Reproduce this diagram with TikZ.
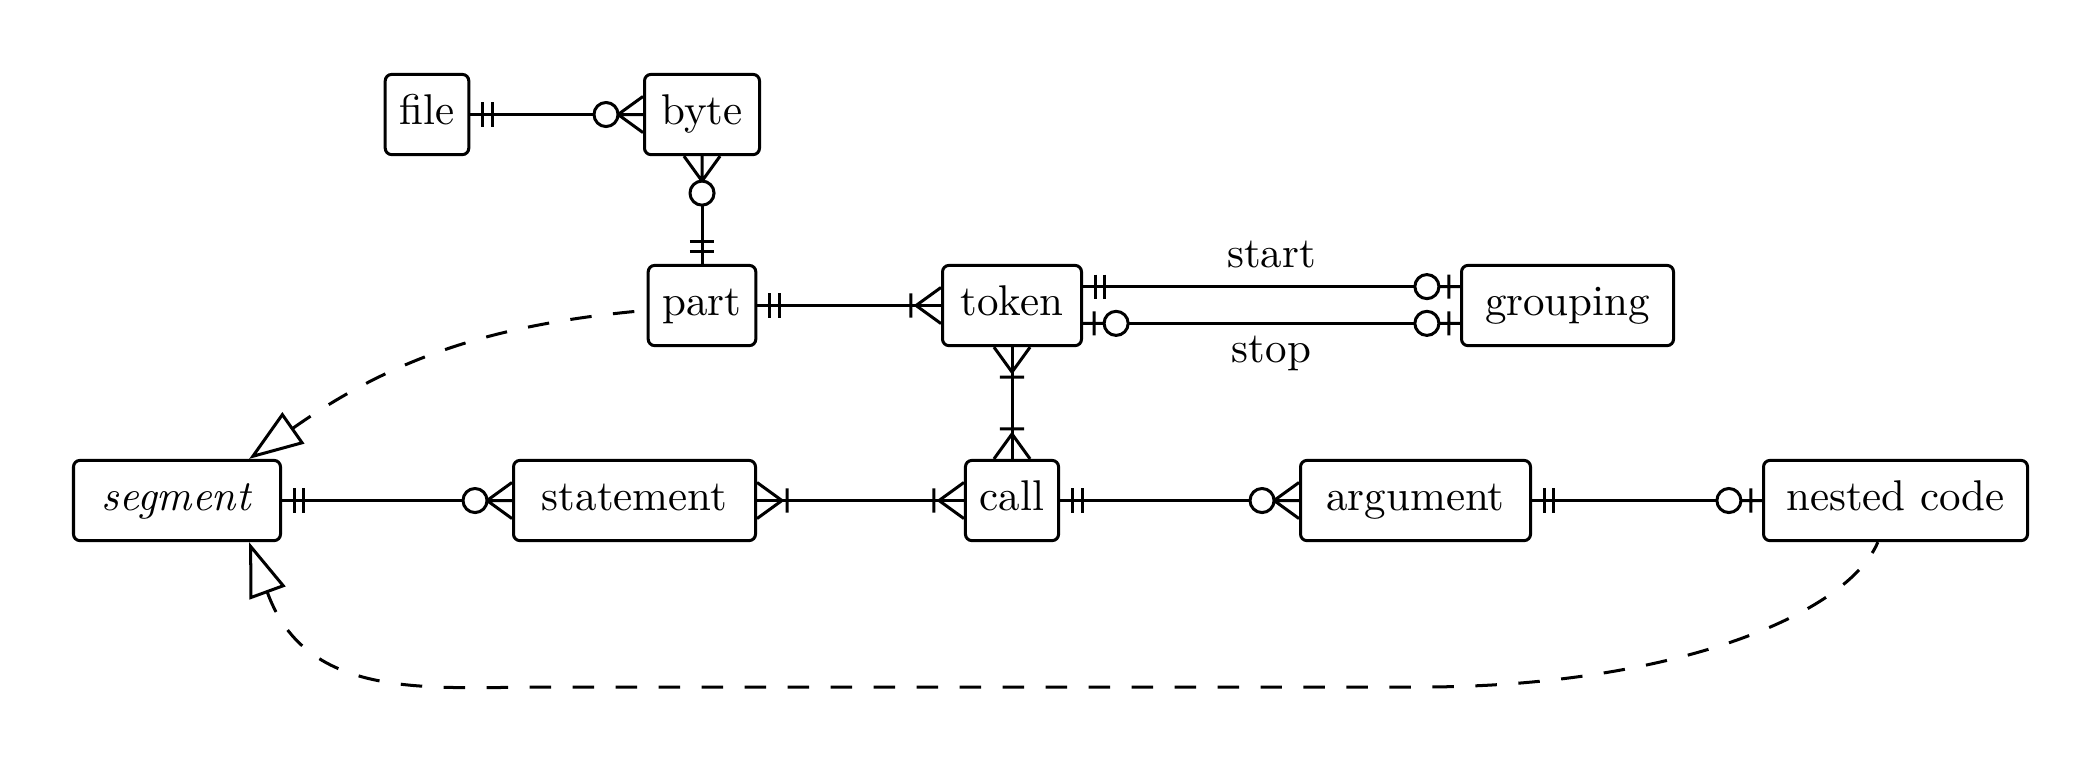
\documentclass[tikz,border=0pt]{standalone}
\usetikzlibrary{arrows.meta}
\newcommand\pxl{0.2326pt}
% ER end symbols
\pgfdeclarearrow{
  name = ERone,
  setup code = {
    \pgfarrowssettipend{0pt}
    \pgfarrowssetlineend{0pt}
    \pgfarrowssetbackend{-5.5pt}
    \pgfarrowshullpoint{0pt}{2.8pt}
    \pgfarrowshullpoint{0pt}{-2.8pt}
    \pgfarrowshullpoint{-5.5pt}{2.8pt}
    \pgfarrowshullpoint{-5.5pt}{-2.8pt}
  },
  drawing code = {
    \pgfsetdash{}{0pt}\pgfsetbuttcap
    \pgfpathmoveto{\pgfpoint{-2.9pt}{-2.8pt}}\pgfpathlineto{\pgfpoint{-2.9pt}{2.8pt}}
    \pgfpathmoveto{\pgfpoint{-5.1pt}{-2.8pt}}\pgfpathlineto{\pgfpoint{-5.1pt}{2.8pt}}
    \pgfusepathqstroke
  }
}
\pgfdeclarearrow{
  name = ERzeromany,
  setup code = {
    \pgfarrowssettipend{0pt}
    \pgfarrowssetlineend{-11.4pt}
    \pgfarrowssetbackend{-11.4pt}
    \pgfarrowshullpoint{0pt}{4.2pt}
    \pgfarrowshullpoint{0pt}{-4.2pt}
    \pgfarrowshullpoint{-11.4pt}{2.8pt}
    \pgfarrowshullpoint{-11.4pt}{-2.8pt}
  },
  drawing code = {
    \pgfsetdash{}{0pt}\pgfsetroundjoin\pgfsetbuttcap
    \pgfpathmoveto{\pgfpoint{0pt}{4.2pt}}
    \pgfpathlineto{\pgfpoint{-5.8pt}{0pt}}
    \pgfpathlineto{\pgfpoint{0pt}{-4.2pt}}
    \pgfpathmoveto{\pgfpoint{-5.8pt}{0pt}}\pgfpathlineto{\pgfpoint{0pt}{0pt}}
    \pgfpathcircle{\pgfpoint{-8.6pt}{0pt}}{2.8pt}
    \pgfusepathqstroke
  }
}
\pgfdeclarearrow{
  name = ERonemany,
  setup code = {
    \pgfarrowssettipend{0pt}
    \pgfarrowssetlineend{0pt}
    \pgfarrowssetbackend{-7.2pt}
    \pgfarrowshullpoint{0pt}{4.2pt}
    \pgfarrowshullpoint{0pt}{-4.2pt}
    \pgfarrowshullpoint{-7.2pt}{2.8pt}
    \pgfarrowshullpoint{-7.2pt}{-2.8pt}
  },
  drawing code = {
    \pgfsetdash{}{0pt}\pgfsetroundjoin\pgfsetbuttcap
    \pgfpathmoveto{\pgfpoint{0pt}{4.2pt}}
    \pgfpathlineto{\pgfpoint{-5.8pt}{0pt}}
    \pgfpathlineto{\pgfpoint{0pt}{-4.2pt}}
    \pgfpathmoveto{\pgfpoint{-7pt}{2.8pt}}\pgfpathlineto{\pgfpoint{-7pt}{-2.8pt}}
    \pgfusepathqstroke
  }
}
\pgfdeclarearrow{
  name = ERzeroone,
  setup code = {
    \pgfarrowssettipend{0pt}
    \pgfarrowssetlineend{-10.5pt}
    \pgfarrowssetbackend{-10.5pt}
    \pgfarrowshullpoint{0pt}{2.8pt}
    \pgfarrowshullpoint{0pt}{-2.8pt}
    \pgfarrowshullpoint{-10.5pt}{2.8pt}
    \pgfarrowshullpoint{-10.5pt}{-2.8pt}
  },
  drawing code = {
    \pgfsetdash{}{0pt}\pgfsetbuttcap
    \pgfpathmoveto{\pgfpoint{-4.9pt}{0pt}}\pgfpathlineto{\pgfpoint{0pt}{0pt}}
    \pgfpathmoveto{\pgfpoint{-2.6pt}{2.8pt}}\pgfpathlineto{\pgfpoint{-2.6pt}{-2.8pt}}
    \pgfpathcircle{\pgfpoint{-7.7pt}{0pt}}{2.8pt}
    \pgfusepathqstroke
  }
}
\tikzset{
  entity/.style={draw, line width=0.7pt, rounded corners=1.5pt,
    text height=8.4pt, text depth=3.6pt, inner sep=3.33pt},
  rel/.style={line width=0.7pt},
  inherit/.style={line width=0.7pt, dash pattern=on 5pt off 5pt},
  lbl/.style={midway, anchor=base, inner sep=0pt},
}
\begin{document}
\begin{tikzpicture}[x=0.2326pt, y=0.2326pt]
\path[use as bounding box] (0,0) rectangle (2099,-764);
% entities
\node[entity, minimum width=83*\pxl]  (file)      at (427,-114.5)  {file};
\node[entity, minimum width=115*\pxl] (byte)      at (702,-114.5)  {byte};
\node[entity, minimum width=106*\pxl] (part)      at (702,-305.5)  {part};
\node[entity, minimum width=139*\pxl] (token)     at (1012,-305.5) {token};
\node[entity, minimum width=212*\pxl] (grouping)  at (1567.5,-305.5) {grouping};
\node[entity, minimum width=207*\pxl] (segment)   at (177,-500.5)  {\textit{segment}};
\node[entity, minimum width=242*\pxl] (statement) at (634.5,-500.5) {statement};
\node[entity, minimum width=91*\pxl]  (call)      at (1012,-500.5) {call};
\node[entity, minimum width=230*\pxl] (argument)  at (1415.5,-500.5) {argument};
\node[entity, minimum width=264*\pxl] (nested)    at (1895.5,-500.5) {nested code};
\coordinate (b1) at (1420,-687);
\coordinate (b2) at (550,-687);
% relationships
\draw[rel, arrows={{ERone}-{ERzeromany}}] (file) -- (byte);
\draw[rel, arrows={{ERzeromany}-{ERone}}] (byte) -- (part);
\draw[rel, arrows={{ERone}-{ERonemany}}] (part) -- (token);
\draw[rel, arrows={{ERone}-{ERzeroone}}] ([yshift=4.4pt]token.east) -- ([yshift=4.4pt]grouping.west)
  node[lbl, yshift=4.5pt] {start};
\draw[rel, arrows={{ERzeroone}-{ERzeroone}}] ([yshift=-4.15pt]token.east) -- ([yshift=-4.15pt]grouping.west)
  node[lbl, yshift=-9pt] {stop};
\draw[rel, arrows={{ERonemany}-{ERonemany}}] (token) -- (call);
\draw[rel, arrows={{ERone}-{ERzeromany}}] (segment) -- (statement);
\draw[rel, arrows={{ERonemany}-{ERonemany}}] (statement) -- (call);
\draw[rel, arrows={{ERone}-{ERzeromany}}] (call) -- (argument);
\draw[rel, arrows={{ERone}-{ERzeroone}}] (argument) -- (nested);
% generalisations
\draw[inherit, {Triangle[open,length=12.6pt,width=8.8pt]}-] (segment.30) to[out=35,in=185] (part);
\draw[inherit, {Triangle[open,length=12.6pt,width=8.8pt]}-] (segment.-30)
  to[out=-70,in=180,out distance=39.5pt,in distance=28pt] (b2) -- (b1)
  to[out=0,in=-113,out distance=58pt,in distance=18.6pt] (nested);
\end{tikzpicture}
\end{document}
